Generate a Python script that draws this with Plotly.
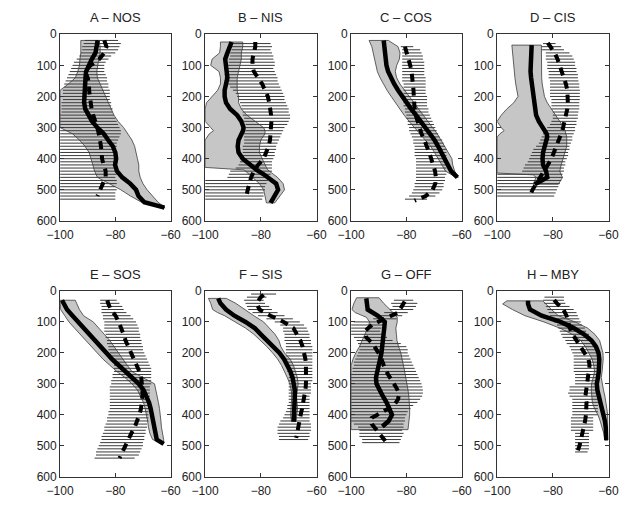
import plotly.graph_objects as go

W, H = 632, 508

titles = ["A \u2013 NOS", "B \u2013 NIS", "C \u2013 COS", "D \u2013 CIS",
          "E \u2013 SOS", "F \u2013 SIS", "G \u2013 OFF", "H \u2013 MBY"]
x_ticks = [-100, -80, -60]
y_ticks = [0, 100, 200, 300, 400, 500, 600]

# ---------------- Panel A ----------------
A_band_d = [20, 40, 60, 80, 100, 120, 140, 160, 180, 200, 220, 240, 260, 280, 300, 320, 340, 360, 380, 400, 420, 440, 460, 480, 500, 520, 540, 557]
A_band_lo = [-92.5, -92.5, -92.5, -92.8, -93, -93.6, -94.5, -97, -100, -100, -100, -100, -100, -100, -100, -95.5, -93, -91, -89.5, -88.8, -88.2, -87.5, -86.5, -82, -78, -74.5, -70.5, -62.5]
A_solid = [-86.4, -86.6, -87.2, -88.5, -89.7, -90.6, -90.8, -90.9, -91.1, -91.3, -91.3, -90.9, -89.8, -88.4, -86.5, -84.2, -82.6, -80.9, -80, -79.7, -80.1, -79.4, -77.5, -74.6, -72.5, -71.6, -69.5, -62.2]
A_band_hi = [-86, -85.5, -85.5, -86, -86.4, -86.7, -86.5, -85.5, -84.5, -83.5, -82.5, -81.5, -80.5, -79, -77, -75.5, -74, -73, -72.5, -72, -71.5, -71.5, -71, -70, -68.5, -66.5, -64.5, -62]
A_dash_d = [20, 40, 60, 80, 100, 120, 140, 160, 180, 200, 220, 240, 260, 280, 300, 320, 340, 360, 380, 400, 420, 440, 460, 480, 500, 520]
A_dash = [-84, -83.2, -84, -85.8, -89, -91, -90, -89.5, -89.5, -89.2, -89, -88.6, -88, -87.2, -86.5, -86, -85.5, -85.2, -85, -84.8, -84.2, -83.5, -83.5, -84.5, -85.5, -86.5]
A_hatch_d = list(range(20, 540, 10))
A_hatch_lo = [-91, -91.5, -92, -92, -92.5, -93, -94, -95, -95.5, -96, -96.5, -97, -97.5, -98, -98.5, -98.5, -99, -99, -99, -99, -99.5, -99.5, -99.5, -99.5,
              -100, -100, -100, -100, -100, -100, -100, -100, -100, -100, -100, -100, -100, -100, -100, -100, -100, -100, -100, -100, -100, -100, -100, -100, -100, -100, -100, -100]
A_hatch_hi = [-79, -78, -78.5, -79, -80, -81.5, -82.5, -83.5, -84, -84, -84, -83.5, -83, -83, -82.5, -82.5, -82, -82, -82, -82, -81.5, -81.5, -81, -81,
              -80.5, -80, -79.5, -79, -78.5, -78, -78, -78.5, -79, -79.5, -79.5, -80, -79.5, -79.5, -80, -79.5, -79.5, -80, -79.5, -79.5, -80, -79.5, -79.5, -80, -79.5, -80, -80, -80]

# ---------------- Panel B ----------------
B_band_d = [25, 40, 60, 80, 100, 120, 140, 160, 180, 200, 220, 240, 260, 280, 300, 310, 320, 340, 360, 380, 400, 420, 428, 436, 450, 460, 480, 500, 520, 542]
B_band_lo = [-94.5, -94.5, -94.8, -97.5, -98, -95, -94.5, -94.5, -95.5, -97.5, -99.5, -100, -100, -100, -98, -97, -98.5, -100, -100, -100, -100, -100, -100, -86, -84, -83, -80.5, -79, -78.5, -78]
B_solid = [-90.5, -91, -92, -92.8, -92.5, -92, -92, -92.5, -93, -93, -92.5, -91, -88.5, -87, -86.2, -86.4, -86.8, -88, -88.3, -88, -86.5, -84, -83, -81.5, -79, -77.5, -74.5, -73.8, -75, -76.5]
B_band_hi = [-86.5, -86.5, -87, -87, -87.5, -88, -88.5, -88.5, -88.5, -88, -88, -87, -85, -82, -79, -78.5, -78.5, -80, -80.5, -80.5, -79.5, -78.5, -78, -77.5, -75.5, -74, -72, -71.5, -73, -75]
B_dash_d = [25, 40, 60, 80, 100, 120, 140, 160, 180, 200, 220, 240, 260, 280, 300, 320, 340, 360, 380, 400, 420, 440, 460, 480, 500, 520]
B_dash = [-82, -82, -82.5, -83, -83, -82.5, -81, -79.5, -78.5, -77.5, -77, -76.5, -76.3, -76.2, -76.3, -76.5, -76.7, -77.2, -78, -79, -81, -82.5, -83.5, -84.2, -84.7, -85.2]
B_hatch_d = list(range(30, 540, 10))
B_hatch_lo = [-90.5, -90.5, -90.5, -91, -91, -91.5, -91.5, -92, -92, -92.5, -93, -93, -93, -92, -91, -90, -89, -88.5, -88, -87.5, -87, -87, -86.5, -86.5, -86, -86, -85.5, -85.5, -85.5, -86, -86, -86, -86, -86.5, -86.5, -86.5, -87, -87, -87.5, -88, -89, -91, -91.5, -92,
              -100, -100, -100, -100, -100, -100, -100]
B_hatch_hi = [-76.5, -76, -76.5, -76, -75.5, -75.5, -75, -75, -75.5, -75, -74.5, -74, -74, -73.5, -73, -72.5, -72, -71.5, -71.5, -71, -70.5, -70, -70, -69.5, -69.5, -70, -70.5, -71.5, -72, -72.5, -73, -73.5, -74, -74.5, -74.5, -75, -75, -75.5, -76, -76, -76, -76, -76.5, -77, -77.5, -78, -78.5, -78.5, -79, -79, -79.5]

# ---------------- Panel C ----------------
C_band_d = [20, 40, 60, 80, 100, 120, 140, 160, 180, 200, 220, 240, 260, 280, 300, 320, 340, 360, 380, 400, 420, 440, 460]
C_band_lo = [-93.5, -92.5, -92, -91.5, -91, -90.5, -89.5, -88.3, -87, -85.5, -84, -82.5, -80.8, -79, -77, -75, -73, -71.2, -69.8, -68.5, -67.3, -65.8, -62]
C_solid = [-88.2, -88, -87.9, -87.6, -87.2, -86.6, -85.6, -84.4, -83, -81.5, -80, -78.3, -76.5, -74.8, -73, -71.3, -69.8, -68.5, -67.3, -66.2, -65.2, -63.8, -61.5]
C_band_hi = [-86.5, -83, -82.3, -82.5, -83.5, -84, -83.5, -82.3, -80.8, -79.2, -77.5, -75.8, -74, -72.2, -70.5, -68.8, -67.3, -66, -64.8, -63.5, -63.2, -62.5, -61.2]
C_dash_d = [40, 60, 80, 100, 120, 140, 160, 180, 200, 220, 240, 260, 280, 300, 320, 340, 360, 380, 400, 420, 440, 460, 480, 500, 520, 535]
C_dash = [-80.5, -79.8, -79.2, -78.6, -78.1, -77.8, -77.5, -77.4, -77.3, -77.2, -77, -76.6, -76, -75.3, -74.5, -73.5, -72.5, -71.7, -71, -70.2, -69.6, -69.3, -69.5, -70.5, -73, -77]
C_hatch_d = list(range(40, 540, 10))
C_hatch_lo = [-82, -81.5, -81.5, -81.5, -81.5, -81.5, -81.5, -81.5, -81.5, -81.5, -81.5, -81.5, -81, -81, -81, -81, -81, -81, -81, -81, -80.5, -80.5, -80, -80, -79.5, -79.5, -79, -79, -78.5, -78,
              -77.5, -77.5, -77, -77, -77, -77, -76.5, -76.5, -76.5, -76.5, -76.5, -76.5, -76.5, -76.5, -77, -77, -77.5, -78, -79, -80.5]
C_hatch_hi = [-77.5, -75, -74.5, -74, -74, -73.5, -73.5, -73.5, -73.5, -73.5, -73, -73, -73, -73, -73, -73, -72.5, -72.5, -72.5, -72.5, -72, -72, -71.5, -71, -70.5, -70, -69.5, -69, -68.5, -68,
              -67, -66.5, -66, -65.5, -65.5, -65.5, -65.5, -65.5, -65.5, -65.5, -65.5, -65.5, -66, -66, -66.5, -66.5, -67, -68, -69.5, -72.5]

# ---------------- Panel D ----------------
D_band_d = [35, 60, 80, 100, 120, 140, 160, 180, 200, 220, 240, 260, 280, 300, 310, 320, 330, 360, 380, 400, 420, 440, 446, 452, 460, 470, 482]
D_band_lo = [-94.7, -94.5, -94.2, -94, -93.8, -93.6, -93.3, -93, -92.5, -94, -96.5, -98.5, -100, -98.5, -97.5, -99, -100, -100, -100, -100, -100, -100, -100, -87, -86, -86.5, -87]
D_solid = [-87.6, -87.8, -88, -88, -88, -87.8, -87.5, -87.2, -87, -86.8, -86.6, -86, -85, -83.5, -82.8, -82.2, -82, -83, -83.5, -83.7, -83.5, -82.4, -82.2, -82, -82, -84, -86.5]
D_band_hi = [-84.1, -84.2, -84.2, -84, -84, -84, -83.8, -83.5, -83, -82, -80.5, -79, -77.5, -76, -75.6, -75.2, -75, -75, -75.5, -76.3, -77, -77.5, -77.3, -77, -76.5, -77, -78]
D_dash_d = [28, 40, 60, 80, 100, 120, 140, 160, 180, 200, 220, 240, 260, 280, 300, 320, 340, 360, 380, 400, 420, 440, 460, 480, 500, 515]
D_dash = [-81.8, -80.8, -79.3, -78.3, -77.5, -76.7, -76, -75.3, -74.8, -74.6, -74.6, -74.8, -75.2, -75.7, -76.3, -77, -77.8, -78.6, -79.5, -80.5, -81.8, -83.2, -84.6, -86, -87.3, -88]
D_hatch_d = list(range(30, 530, 10))
D_hatch_lo = [-83.5, -84, -84, -82.5, -82.5, -82.5, -82, -82, -82, -81.5, -81.5, -81.5, -81, -81, -81, -81, -81, -81, -80.5, -80.5, -80.5, -80.5, -80, -80, -80, -80.5, -81, -82, -83, -83.5,
              -84, -84.5, -85, -86, -87, -87.5, -88, -88.5, -89, -90, -90.5, -91, -100, -100, -100, -100, -100, -100, -100, -100]
D_hatch_hi = [-79, -77, -76, -74, -73, -72.5, -72, -72, -71.5, -71.5, -71, -71, -70.8, -70.5, -70.5, -70.3, -70.3, -70.3, -70.3, -70.5, -70.5, -70.5, -70.8, -71, -71, -71.5, -71.5, -72, -72, -72.5,
              -73, -73, -73.5, -74, -74, -74.5, -74.5, -75, -75.5, -75.5, -76, -76, -76.5, -76.5, -77, -77.5, -78, -78.5, -79, -79.5]

# ---------------- Panel E ----------------
E_band_d = [30, 40, 60, 80, 100, 120, 140, 160, 180, 200, 220, 240, 260, 280, 300, 320, 340, 360, 380, 400, 420, 440, 460, 480, 494]
E_band_lo = [-100, -100, -99.8, -98.3, -96.8, -94.8, -92.7, -90.6, -88.6, -86.6, -84.5, -82, -79.5, -76.5, -74, -72, -70.8, -69.8, -69.2, -68.7, -68.3, -68, -67.5, -66.5, -63]
E_solid = [-99.3, -98.8, -97.5, -95.5, -93.5, -91.5, -89.3, -87.2, -85.2, -83.2, -81.2, -78.8, -76.3, -73.8, -71.5, -69.8, -68.7, -67.8, -67.2, -66.8, -66.5, -66.2, -65.8, -65, -62.5]
E_band_hi = [-94.5, -94, -93, -91.5, -88, -86, -84, -82, -80.3, -78.7, -77.2, -75.7, -74, -70, -65.8, -65.3, -64.8, -64.4, -64, -63.7, -63.5, -63.3, -63, -62.5, -62.5]
E_dash_d = [30, 40, 60, 80, 100, 120, 140, 160, 180, 200, 220, 240, 260, 280, 300, 320, 340, 360, 380, 400, 420, 440, 460, 480, 500, 520, 540]
E_dash = [-82.9, -82.6, -81.6, -79.9, -78.8, -77.8, -77, -76.3, -75.3, -74.2, -73, -72.2, -71.3, -70.6, -70.3, -70.2, -70.2, -70.3, -70.7, -71.3, -72, -73, -74.2, -75.3, -76.3, -77.3, -78.5]
E_hatch_d = list(range(30, 550, 10))
E_hatch_lo = [-85.5, -85.5, -85, -85, -85, -84.5, -84.5, -84, -84, -84, -84, -83.5, -83.5, -83, -83, -82.5, -82.5, -82, -82, -81.5, -81, -80.5, -80.5, -80.5, -81, -81, -81.5, -81.5, -82, -82,
              -82, -82, -82, -82, -82, -82, -82.5, -82.5, -83, -83, -83.5, -84, -84, -84.5, -85, -85, -85.5, -86, -86.5, -87, -87, -87.5]
E_hatch_hi = [-79.5, -78.5, -77.5, -77, -76, -74.5, -73.5, -72.5, -72, -71.5, -71.5, -71, -71, -70.5, -70.5, -70, -70, -69.5, -69, -68.5, -68, -67.5, -67, -67, -67, -67, -67, -67, -67.5, -67.5,
              -67.5, -67.5, -67.5, -67.5, -67.5, -67.5, -68, -68, -68, -68, -68.5, -68.5, -69, -69, -69.5, -69.5, -70, -70, -70.5, -71, -71.5, -73]

# ---------------- Panel F ----------------
F_band_d = [24, 40, 60, 70, 80, 100, 120, 140, 160, 180, 200, 220, 240, 260, 280, 300, 320, 340, 360, 380, 400, 422]
F_band_lo = [-98.8, -98, -97.3, -95.5, -93, -89, -85.5, -82.5, -80, -77.8, -75.8, -74, -72.6, -71.4, -70.5, -69.6, -69.1, -68.9, -69, -69.2, -69.3, -69]
F_solid = [-95.3, -94.5, -92.5, -91, -89.5, -85.5, -82.2, -80, -77.6, -75.5, -73.3, -71.7, -70.4, -69.4, -68.6, -68, -67.8, -67.8, -67.9, -68.1, -68.2, -68.2]
F_band_hi = [-92.4, -89, -86, -84.2, -82.5, -79, -76.8, -74.9, -73.5, -72.8, -71.5, -69.5, -68.3, -67.5, -66.9, -66.6, -66.9, -67.2, -67, -66.8, -67.1, -67.3]
F_dash_d = [12, 20, 40, 60, 80, 100, 120, 140, 160, 180, 200, 220, 240, 260, 280, 300, 320, 340, 360, 380, 400, 420, 440, 460, 475]
F_dash = [-79, -80, -81.5, -80.5, -76.5, -71.8, -68.3, -67, -65.8, -65, -64.4, -64, -63.8, -63.7, -63.7, -63.8, -64, -64.3, -64.7, -65.2, -65.7, -66.2, -66.7, -67, -67.3]
F_hatch_d = list(range(10, 490, 10))
F_hatch_lo = [-83.5, -85, -86, -85.5, -85, -84.5, -83, -81, -78, -75, -73, -72, -72, -71.5, -71.5, -71.5, -71, -71, -71, -71, -71, -71, -70.5, -70.5, -70.5, -70.5, -70, -70, -70, -70,
              -70, -70, -70, -70, -70, -70, -70.5, -70.5, -71, -71.5, -72, -73, -73.5, -74, -74, -74, -73.5, -73.5]
F_hatch_hi = [-74.5, -78, -79, -78.5, -77, -76, -74, -71.5, -68.5, -66, -64.5, -63.5, -63, -62.5, -62.5, -62, -62, -61.5, -61.5, -61.5, -61.5, -61.5, -61.5, -61.5, -61.5, -61.5, -61.5, -61.5, -61.5, -62,
              -62, -62, -62, -62.5, -62.5, -62.5, -62.5, -62.5, -62.5, -62.5, -62.5, -62.5, -62, -62, -62, -62.5, -62.5, -63]

# ---------------- Panel G ----------------
G_band_d = [22, 40, 60, 70, 85, 100, 120, 140, 160, 180, 200, 220, 240, 260, 280, 300, 320, 340, 360, 380, 400, 420, 448]
G_band_lo = [-98, -99, -99.7, -98.5, -94.5, -93.3, -94, -95, -96, -97, -98.3, -99.3, -100, -100, -100, -100, -100, -100, -100, -100, -100, -100, -100]
G_band_hi = [-89.9, -88.2, -86, -84.8, -83.3, -83.3, -83.8, -83.6, -83.4, -82.8, -82, -81.5, -81, -80.6, -80.2, -79.7, -79.4, -79.1, -78.9, -78.8, -78.8, -79, -79.4]
G_solid_d = [24, 40, 60, 80, 100, 120, 140, 160, 180, 200, 220, 240, 260, 280, 300, 320, 340, 360, 380, 400, 420, 438]
G_solid = [-94.5, -94.3, -94, -90.3, -87.8, -88, -88.2, -88.4, -88.6, -89, -89.5, -90.1, -90.6, -91, -90.8, -89.8, -88.5, -87.2, -86, -85.2, -86.4, -88.7]
G_dash_d = [34, 50, 70, 90, 110, 130, 150, 170, 190, 210, 230, 250, 270, 290, 310, 330, 350, 370, 390, 410, 430, 450, 470, 485]
G_dash = [-80.6, -81.5, -83, -88, -92.5, -95, -94.5, -92.2, -90.8, -89.4, -88.6, -87.8, -86.6, -85, -83.8, -82.6, -83, -84.5, -88.5, -92.5, -92.5, -90.8, -89, -87.6]
G_hatch_d = list(range(30, 500, 10))
G_hatch_lo = [-84.5, -85.5, -85, -86, -88, -90, -92, -99, -100, -100, -100, -100, -99, -98, -97.5, -97, -97, -97.5, -98, -98.5, -99, -99, -99.5, -99.5, -100, -100, -100, -100, -100, -100,
              -100, -100, -100, -100, -100, -100, -100, -100, -100, -100, -99, -97.5, -97, -97, -97, -96, -96]
G_hatch_hi = [-77.5, -76, -76.5, -77.5, -79.5, -81.5, -83.5, -87, -88, -89, -89.5, -88.5, -87, -85, -82, -80, -79.5, -79.5, -79, -78.5, -78, -77.5, -77, -76.5, -76, -75.5, -75, -74.5, -74.2, -74,
              -74, -74.3, -75, -76, -77.5, -78.5, -79.5, -80, -80.5, -80.5, -81, -81, -81.5, -81, -81.5, -82, -82.5]

# ---------------- Panel H ----------------
H_band_d = [32, 42, 60, 80, 100, 120, 140, 160, 180, 200, 220, 240, 260, 280, 300, 320, 340, 360, 380, 400, 420, 440, 460, 482]
H_band_lo = [-96.5, -98, -94.5, -90, -83.2, -77.5, -73, -70, -68.3, -67, -65.9, -65.3, -65, -65.5, -66.1, -66.2, -66.1, -65.8, -65, -63.8, -63, -62.3, -61.7, -61.3]
H_solid = [-88.9, -88.9, -88.2, -84, -77.2, -72.5, -68.8, -66.1, -64.5, -63.6, -63.3, -63.2, -63.5, -63.8, -64.2, -64, -63.4, -62.9, -62.3, -61.8, -61.3, -61, -60.8, -60.8]
H_band_hi = [-83.6, -82.5, -80.5, -78, -72, -67.5, -64.9, -63.2, -62.5, -62, -61.9, -62, -62.3, -62.6, -62.2, -61.8, -61.3, -60.9, -60.6, -60.3, -60.2, -60.2, -60.2, -60.2]
H_dash_d = [29, 40, 60, 80, 100, 120, 140, 160, 180, 200, 220, 240, 260, 280, 300, 320, 340, 360, 380, 400, 420, 440, 460, 480, 500, 515]
H_dash = [-79.5, -78.5, -76.2, -75.1, -74.5, -73.9, -72.9, -71.5, -69.9, -68.4, -67.2, -66.8, -67.1, -67.4, -67.8, -68.3, -68.3, -67.9, -67.9, -68.1, -68.4, -68.8, -69.3, -69.9, -70.4, -71]
H_hatch_d = list(range(20, 530, 10))
H_hatch_lo = [-83, -83.5, -83, -82.5, -82, -81.5, -81, -80.5, -79.5, -78.5, -78, -77.5, -77, -76.5, -75.5, -75, -74, -73.5, -73, -72.5, -72.5, -72.5, -72.5, -72.5, -72.5, -72, -72, -72, -72, -74,
              -74, -74.5, -74, -73, -73, -73, -73, -73, -73, -73.5, -73.5, -73.5, -73.5, -73.5, -72, -72, -72, -72, -72, -72, -72]
H_hatch_hi = [-76, -76, -75.5, -74, -72.5, -71.5, -71, -70.5, -70, -69.5, -68.5, -68, -67, -66.5, -66, -65.5, -65, -64.5, -64, -63.5, -63.5, -63.5, -63.5, -63.5, -63.5, -63.5, -63.5, -63.5, -63.5, -64,
              -64, -64, -64, -63.8, -63.8, -63.8, -63.8, -63.8, -63.8, -65.5, -65.5, -65.5, -65.5, -65.5, -67, -67, -67, -67, -67, -67, -67.5]

panels = [
    (A_band_d, A_band_lo, A_band_hi, A_band_d, A_solid, A_dash_d, A_dash, A_hatch_d, A_hatch_lo, A_hatch_hi),
    (B_band_d, B_band_lo, B_band_hi, B_band_d, B_solid, B_dash_d, B_dash, B_hatch_d, B_hatch_lo, B_hatch_hi),
    (C_band_d, C_band_lo, C_band_hi, C_band_d, C_solid, C_dash_d, C_dash, C_hatch_d, C_hatch_lo, C_hatch_hi),
    (D_band_d, D_band_lo, D_band_hi, D_band_d, D_solid, D_dash_d, D_dash, D_hatch_d, D_hatch_lo, D_hatch_hi),
    (E_band_d, E_band_lo, E_band_hi, E_band_d, E_solid, E_dash_d, E_dash, E_hatch_d, E_hatch_lo, E_hatch_hi),
    (F_band_d, F_band_lo, F_band_hi, F_band_d, F_solid, F_dash_d, F_dash, F_hatch_d, F_hatch_lo, F_hatch_hi),
    (G_band_d, G_band_lo, G_band_hi, G_solid_d, G_solid, G_dash_d, G_dash, G_hatch_d, G_hatch_lo, G_hatch_hi),
    (H_band_d, H_band_lo, H_band_hi, H_band_d, H_solid, H_dash_d, H_dash, H_hatch_d, H_hatch_lo, H_hatch_hi),
]

# layout geometry (pixels)
col_px = [(48, 163), (199, 315), (351, 466), (503, 619)]
row_px = [(28, 220), (292, 483)]

fig = go.Figure()
layout = dict(width=W, height=H, margin=dict(l=0, r=0, t=0, b=0),
              paper_bgcolor="white", plot_bgcolor="white", showlegend=False,
              font=dict(family="Liberation Sans, Arial, sans-serif", size=12, color="#222"))
annotations = []

for i, p in enumerate(panels):
    bd, blo, bhi, sd, sv, dd, dv, hd, hlo, hhi = p
    assert len(bd) == len(blo) == len(bhi), i
    assert len(sd) == len(sv), i
    assert len(dd) == len(dv), i
    assert len(hd) == len(hlo) == len(hhi), (i, len(hd), len(hlo), len(hhi))
    k = i + 1
    xa = "x" if k == 1 else f"x{k}"
    ya = "y" if k == 1 else f"y{k}"
    r, c = divmod(i, 4)
    x0, x1 = col_px[c]
    y0, y1 = row_px[r]
    dom_x = [x0 / W, x1 / W]
    dom_y = [1 - y1 / H, 1 - y0 / H]
    axis_common = dict(showline=True, mirror="ticks", linecolor="#333", linewidth=1,
                       ticks="inside", ticklen=4, tickcolor="#333", showgrid=False,
                       zeroline=False, tickfont=dict(size=12, color="#222"))
    layout["xaxis" + ("" if k == 1 else str(k))] = dict(domain=dom_x, range=[-100, -60], tickvals=x_ticks,
                                                         anchor=ya, ticklabelstandoff=3, **axis_common)
    layout["yaxis" + ("" if k == 1 else str(k))] = dict(domain=dom_y, range=[600, 0], tickvals=y_ticks,
                                                         anchor=xa, **axis_common)
    # gray band
    fig.add_trace(go.Scatter(x=list(blo) + list(bhi)[::-1] + [blo[0]],
                             y=list(bd) + list(bd)[::-1] + [bd[0]],
                             mode="lines", fill="toself", fillcolor="#c6c6c6",
                             line=dict(color="#3c3c3c", width=0.8), xaxis=xa, yaxis=ya,
                             hoverinfo="skip"))
    # hatch (horizontal spread lines)
    hx, hy = [], []
    for d, lo, hi in zip(hd, hlo, hhi):
        hx += [lo, hi, None]
        hy += [d, d, None]
    fig.add_trace(go.Scatter(x=hx, y=hy, mode="lines", line=dict(color="#3a3a3a", width=1),
                             xaxis=xa, yaxis=ya, hoverinfo="skip"))
    # solid mean line
    fig.add_trace(go.Scatter(x=sv, y=sd, mode="lines", line=dict(color="black", width=4.5),
                             xaxis=xa, yaxis=ya))
    # dashed line
    fig.add_trace(go.Scatter(x=dv, y=dd, mode="lines",
                             line=dict(color="black", width=4, dash="8px,6px"),
                             xaxis=xa, yaxis=ya))
    annotations.append(dict(text=titles[i], x=(dom_x[0] + dom_x[1]) / 2, y=dom_y[1],
                            xref="paper", yref="paper", xanchor="center", yanchor="bottom",
                            yshift=7, showarrow=False, font=dict(size=13, color="#222")))

layout["annotations"] = annotations
fig.update_layout(**layout)
fig.write_html("out.html")
